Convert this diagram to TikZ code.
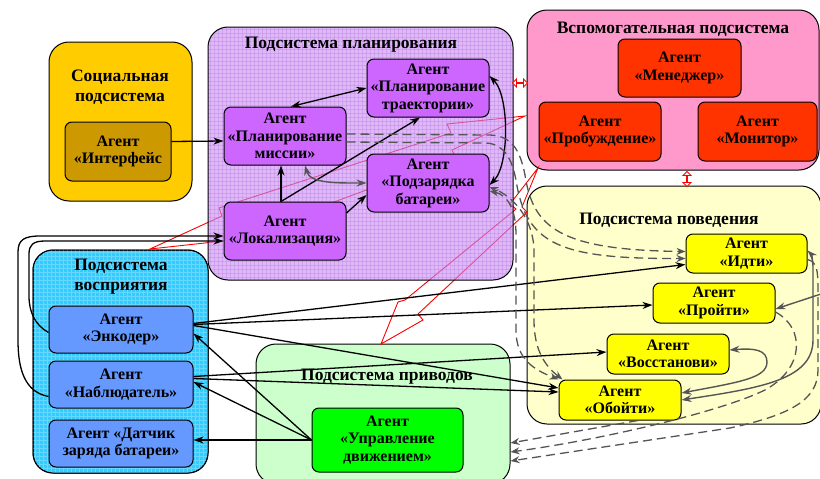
\documentclass[tikz,border=0pt]{standalone}
\usepackage{fontspec}
\setmainfont{Liberation Serif}
\usetikzlibrary{arrows.meta,shapes.arrows,calc}
\definecolor{socc}{HTML}{FFCC00}
\definecolor{intfc}{HTML}{CC9900}
\definecolor{planc}{HTML}{CB89F3}
\definecolor{plangrid}{HTML}{B070E0}
\definecolor{plagc}{HTML}{CC66FF}
\definecolor{auxc}{HTML}{FF99CC}
\definecolor{auxagc}{HTML}{FF3300}
\definecolor{behc}{HTML}{FFFFCC}
\definecolor{behagc}{HTML}{FFFF00}
\definecolor{perc}{HTML}{33CCFF}
\definecolor{pergrid}{HTML}{66D8FF}
\definecolor{peragc}{HTML}{6699FF}
\definecolor{drvc}{HTML}{CCFFCC}
\definecolor{motc}{HTML}{00FF00}
\definecolor{grayc}{HTML}{555555}
\begin{document}
\begin{tikzpicture}[x=1pt,y=-1pt,
  sub/.style={draw=black, line width=1pt, rounded corners=20pt, inner sep=0pt},
  agent/.style={draw=black, line width=1pt, rounded corners=7pt, align=center,
     font=\bfseries\fontsize{16}{17.5}\selectfont, inner sep=0pt},
  ttl/.style={align=center, font=\bfseries\fontsize{17.5}{20}\selectfont, inner sep=0pt},
  arr/.style={line width=1.3pt, -{Stealth[length=10pt,width=7pt]}},
  arrb/.style={line width=1.3pt, {Stealth[length=10pt,width=7pt]}-{Stealth[length=10pt,width=7pt]}},
  garr/.style={draw=grayc, line width=1.4pt, -{Stealth[length=10pt,width=7pt]}},
  garrb/.style={draw=grayc, line width=1.4pt, {Stealth[length=10pt,width=7pt]}-{Stealth[length=10pt,width=7pt]}},
  dsh/.style={draw=grayc, line width=1.3pt, dash pattern=on 9pt off 5pt, -{Stealth[length=9pt,width=7pt]}},
  dshb/.style={draw=grayc, line width=1.3pt, dash pattern=on 9pt off 5pt, {Stealth[length=9pt,width=7pt]}-{Stealth[length=9pt,width=7pt]}},
  bolt/.style={draw=red, line width=0.9pt},
  rdbl/.style={double arrow, draw=red, fill=white, line width=0.9pt, inner sep=0pt,
     double arrow head extend=3.5pt, minimum width=8pt}
]
\useasboundingbox (0,0) rectangle (820,479);
\fill[white] (0,0) rectangle (820,479);

% ---------- subsystems (opaque) ----------
\node[sub, fill=socc, minimum width=143pt, minimum height=159pt] (soc) at (120.5,121.5) {};
\node[sub, fill=auxc, minimum width=292pt, minimum height=160pt] (aux) at (673,90) {};
\node[sub, fill=behc, minimum width=294pt, minimum height=238pt] (beh) at (674,305) {};
\node[sub, fill=perc, minimum width=175pt, minimum height=223pt] (per) at (120.5,361.5) {};
\begin{scope}
  \clip[rounded corners=20pt] (33,250) rectangle (208,473);
  \foreach \x in {35,39,...,208} \draw[pergrid, line width=0.5pt] (\x,250) -- (\x,473);
  \foreach \y in {252,256,...,473} \draw[pergrid, line width=0.5pt] (33,\y) -- (208,\y);
\end{scope}
\draw[line width=1pt, rounded corners=20pt] (33,250) rectangle (208,473);
\node[sub, fill=drvc, minimum width=254pt, minimum height=140pt] (drv) at (383,414) {};

% ---------- red bolts ----------
\draw[bolt] (525,116) -- (447,124) -- (451,133) -- (219,208) -- (222,216)
   -- (150,249) -- (232,240) -- (455,157) -- (452,150) -- cycle;
\draw[bolt] (538,168) -- (510,204) -- (516,209) -- (405,300) -- (398,302)
   -- (381,344) -- (423,320) -- (418,314) -- (527,212) -- (522,207) -- cycle;

% ---------- planning subsystem (semi-transparent over bolts) ----------
\node[sub, draw=none, fill=planc, fill opacity=0.6, minimum width=305pt, minimum height=253pt] (plan) at (360.5,153.5) {};
\begin{scope}
  \clip[rounded corners=20pt] (208,27) rectangle (513,280);
  \foreach \x in {210,214,...,513} \draw[plangrid, line width=0.5pt, opacity=0.3] (\x,27) -- (\x,280);
  \foreach \y in {29,33,...,280} \draw[plangrid, line width=0.5pt, opacity=0.3] (208,\y) -- (513,\y);
\end{scope}
\draw[line width=1pt, rounded corners=20pt] (208,27) rectangle (513,280);

% ---------- titles ----------
\node[ttl] (tsoc) at (120,87) {Социальная\\подсистема};
\node[ttl] (tplan) at (351,45) {Подсистема планирования};
\node[ttl] (taux) at (673,29) {Вспомогательная подсистема};
\node[ttl] (tbeh) at (669,220) {Подсистема поведения};
\node[ttl] (tper) at (121,277) {Подсистема\\восприятия};
\node[ttl] (tdrv) at (387,377) {Подсистема приводов};

% ---------- agents ----------
\node[agent, fill=intfc, minimum width=106pt, minimum height=59pt] (intf) at (118,151.5) {Агент\\«Интерфейс};
\node[agent, fill=plagc, minimum width=122pt, minimum height=58pt] (mis) at (285,136) {Агент\\«Планирование\\миссии»};
\node[agent, fill=plagc, minimum width=122pt, minimum height=58pt] (traj) at (428,88) {Агент\\«Планирование\\траектории»};
\node[agent, fill=plagc, minimum width=122pt, minimum height=58pt] (bat) at (428,183) {Агент\\«Подзарядка\\батареи»};
\node[agent, fill=plagc, minimum width=122pt, minimum height=58pt] (loc) at (285,231) {Агент\\«Локализация»};
\node[agent, fill=auxagc, minimum width=123pt, minimum height=58pt] (man) at (679.5,68) {Агент\\«Менеджер»};
\node[agent, fill=auxagc, minimum width=122pt, minimum height=59pt] (wake) at (600,131.5) {Агент\\«Пробуждение»};
\node[agent, fill=auxagc, minimum width=119pt, minimum height=59pt] (mon) at (757.5,131.5) {Агент\\«Монитор»};
\node[agent, fill=behagc, minimum width=121pt, minimum height=39pt] (idti) at (746.5,253.5) {Агент\\«Идти»};
\node[agent, fill=behagc, minimum width=122pt, minimum height=40pt] (proiti) at (714,303) {Агент\\«Пройти»};
\node[agent, fill=behagc, minimum width=122pt, minimum height=40pt] (voss) at (668,354) {Агент\\«Восстанови»};
\node[agent, fill=behagc, minimum width=122pt, minimum height=40pt] (oboiti) at (620,400) {Агент\\«Обойти»};
\node[agent, fill=peragc, minimum width=144pt, minimum height=47pt] (enc) at (121,329.5) {Агент\\«Энкодер»};
\node[agent, fill=peragc, minimum width=144pt, minimum height=47pt] (obs) at (121,384.5) {Агент\\«Наблюдатель»};
\node[agent, fill=peragc, minimum width=144pt, minimum height=47pt] (dat) at (121,443.5) {Агент «Датчик\\заряда батареи»};
\node[agent, fill=motc, minimum width=151pt, minimum height=64pt] (mot) at (387.5,440) {Агент\\«Управление\\движением»};

% ---------- small red double arrows ----------
\node[rdbl, minimum height=15pt] (dpa) at (520,83) {};
\node[rdbl, minimum height=15pt, rotate=90] (dab) at (687,179) {};

% ---------- black connectors ----------
\draw[arr] ([yshift=10pt]intf.east) -- ([yshift=-5pt]mis.west);
\draw[arrb] ([xshift=6pt]mis.north) -- (traj.west);
\draw[arr] ([xshift=-4pt]loc.north) -- ([xshift=-4pt]mis.south);
\draw[arr] ([xshift=-4pt]loc.north) -- ([xshift=-8pt]traj.south);
\draw[arr] ([yshift=18pt]loc.east) -- ([yshift=-12pt]bat.west);
\draw[arrb] ([yshift=12pt]traj.east) .. controls +(20,20) and +(20,-20) .. ([yshift=-2pt]bat.east);
\draw[garrb] ([xshift=20pt]mis.south) .. controls +(5,18) and +(-30,0) .. (bat.west);

\draw[arr] ([yshift=-12pt]obs.west) .. controls (25,392) and (18,370) .. (18,340) -- (18,252)
   .. controls (18,240) and (24,236) .. (40,236) -- ([yshift=-5pt]loc.west);
\draw[arr] ([yshift=-3pt]enc.west) .. controls (35,325) and (29,312) .. (29,296) -- (29,254)
   .. controls (29,245) and (33,241) .. (45,241) -- ([yshift=-10pt]loc.west);

\draw[arr] ([yshift=6pt]enc.east) -- ([yshift=-11pt]idti.west);
\draw[arr] ([yshift=5pt]enc.east) -- ([yshift=-2pt]proiti.west);
\draw[arr] ([yshift=4pt]enc.east) -- ([yshift=12pt]oboiti.west);
\draw[arr] (mot.west) -- ([yshift=-4pt]enc.east);
\draw[arr] (mot.west) -- ([yshift=2.5pt]obs.east);
\draw[arr] (mot.west) -- ([yshift=3.5pt]dat.east);
\draw[arr] ([yshift=8pt]obs.east) -- ([yshift=2pt]voss.west);
\draw[arr] ([yshift=6pt]obs.east) -- ([yshift=8pt]oboiti.west);

% ---------- gray solid connectors ----------
\coordinate (gin) at (821,294);
\draw[garr] (gin) -- ([yshift=-6pt]proiti.east);
\draw[garrb] ([yshift=7pt]oboiti.east) .. controls (740,382) and (767,378) .. (767,362)
   .. controls (767,350) and (755,348) .. ([yshift=4pt]voss.east);
\draw[garrb] (oboiti.east) .. controls (760,388) and (813,380) .. (813,340) -- (813,268)
   .. controls (813,258) and (811,254) .. ([yshift=3pt]idti.east);

% ---------- dashed connectors ----------
\draw[dsh] ([yshift=2pt]mis.east) -- (490,135) .. controls (512,136) and (520,150) .. (525,175)
   .. controls (533,228) and (560,250) .. ([yshift=2pt]idti.west);
\draw[dsh] ([yshift=-6pt]mis.east) -- (486,143) .. controls (505,144) and (512,160) .. (516,180)
   .. controls (526,245) and (560,259) .. ([yshift=-5pt]idti.west);
\draw[dshb] ([yshift=-8pt]bat.east) .. controls (508,195) and (516,210) .. (516,235) -- (516,330)
   .. controls (516,360) and (535,370) .. (oboiti.north west);
\draw[dshb] ([xshift=4pt]oboiti.north west) .. controls (545,366) and (534,350) .. (534,320) -- (534,252)
   .. controls (534,218) and (512,196) .. ([yshift=-4pt]bat.east);
\draw[dsh] ([xshift=18pt]oboiti.south) -- ([yshift=-29pt]drv.east);
\draw[dsh] ([yshift=-9pt]proiti.east) .. controls (805,328) and (805,368) .. (765,390)
   .. controls (720,412) and (600,440) .. ([yshift=-38pt]drv.east);
\draw[dsh] ([yshift=-6pt]idti.east) .. controls (817,262) and (818,270) .. (818,290) -- (818,370)
   .. controls (818,400) and (790,415) .. (730,428) -- ([yshift=-47pt]drv.east);
\end{tikzpicture}
\end{document}
